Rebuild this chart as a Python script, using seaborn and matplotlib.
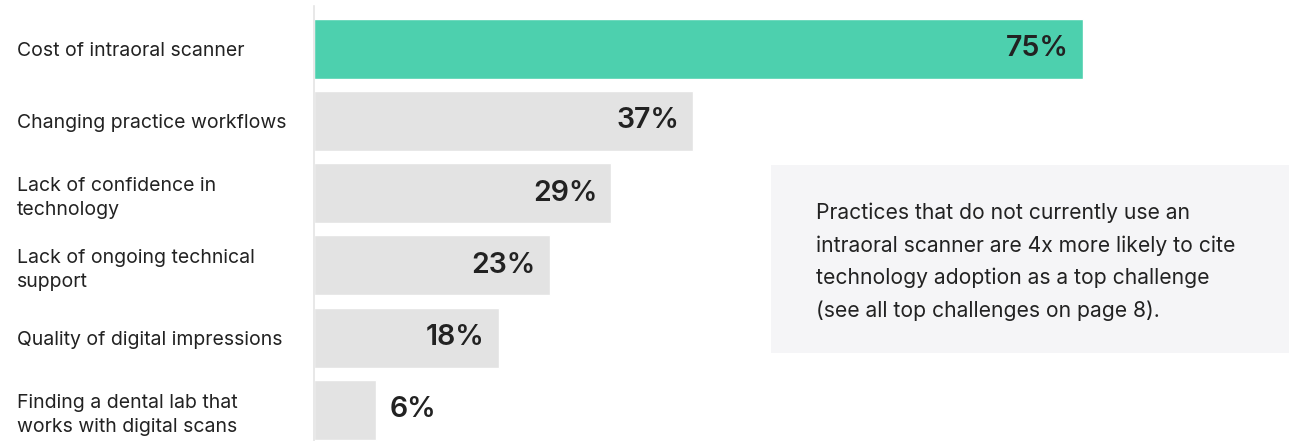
import matplotlib.pyplot as plt
import seaborn as sns
from matplotlib.patches import Rectangle

# data
categories = [
    "Cost of intraoral scanner",
    "Changing practice workflows",
    "Lack of confidence in\ntechnology",
    "Lack of ongoing technical\nsupport",
    "Quality of digital impressions",
    "Finding a dental lab that\nworks with digital scans",
]
values = [75, 37, 29, 23, 18, 6]
bar_colors = ["#4dd0ae", "#e3e3e3", "#e3e3e3", "#e3e3e3", "#e3e3e3", "#e3e3e3"]
note = ("Practices that do not currently use an\n"
        "intraoral scanner are 4x more likely to cite\n"
        "technology adoption as a top challenge\n"
        "(see all top challenges on page 8).")

sns.set_style("white")
plt.rcParams['font.family'] = ['Inter', 'DejaVu Sans']
text_color = "#222222"

W, H = 1289, 441
fig = plt.figure(figsize=(W / 100, H / 100), dpi=100)
ax = fig.add_axes([314 / W, 0, 1 - 314 / W, 435 / H])

sns.barplot(x=values, y=categories, hue=categories, palette=bar_colors,
            legend=False, orient="h", width=0.83, saturation=1, ax=ax)

ax.set_xlim(0, (W - 314) / 10.25)
ax.set_ylim(5.43, -0.588)
ax.set_xlabel("")
ax.set_ylabel("")
ax.set_xticks([])
for s in ["top", "right", "bottom"]:
    ax.spines[s].set_visible(False)
ax.spines["left"].set_color("#e4e4e4")
ax.spines["left"].set_linewidth(1.2)

ax.tick_params(axis="y", length=0, pad=(314 - 17) * 0.72)
for lbl in ax.get_yticklabels():
    lbl.set_horizontalalignment("left")
    lbl.set_fontsize(14)
    lbl.set_color(text_color)
    lbl.set_linespacing(1.4)

# value labels
for i, v in enumerate(values):
    if v >= 10:
        ax.annotate(f"{v}%", (v, i), xytext=(-10, 0), textcoords="offset points",
                    ha="right", va="center", fontsize=20.5, fontweight="semibold",
                    color=text_color)
    else:
        ax.annotate(f"{v}%", (v, i), xytext=(10, 0), textcoords="offset points",
                    ha="left", va="center", fontsize=20.5, fontweight="semibold",
                    color=text_color)

# note box
fig.patches.append(Rectangle((771 / W, 1 - 353 / H), (W - 771) / W, (353 - 165) / H,
                             transform=fig.transFigure, facecolor="#f5f5f7",
                             edgecolor="none", zorder=0))
fig.text(816 / W, 1 - 203 / H, note, ha="left", va="top", fontsize=15.2,
         color=text_color, linespacing=1.72)

fig.savefig("out.png", dpi=100)
plt.close()
